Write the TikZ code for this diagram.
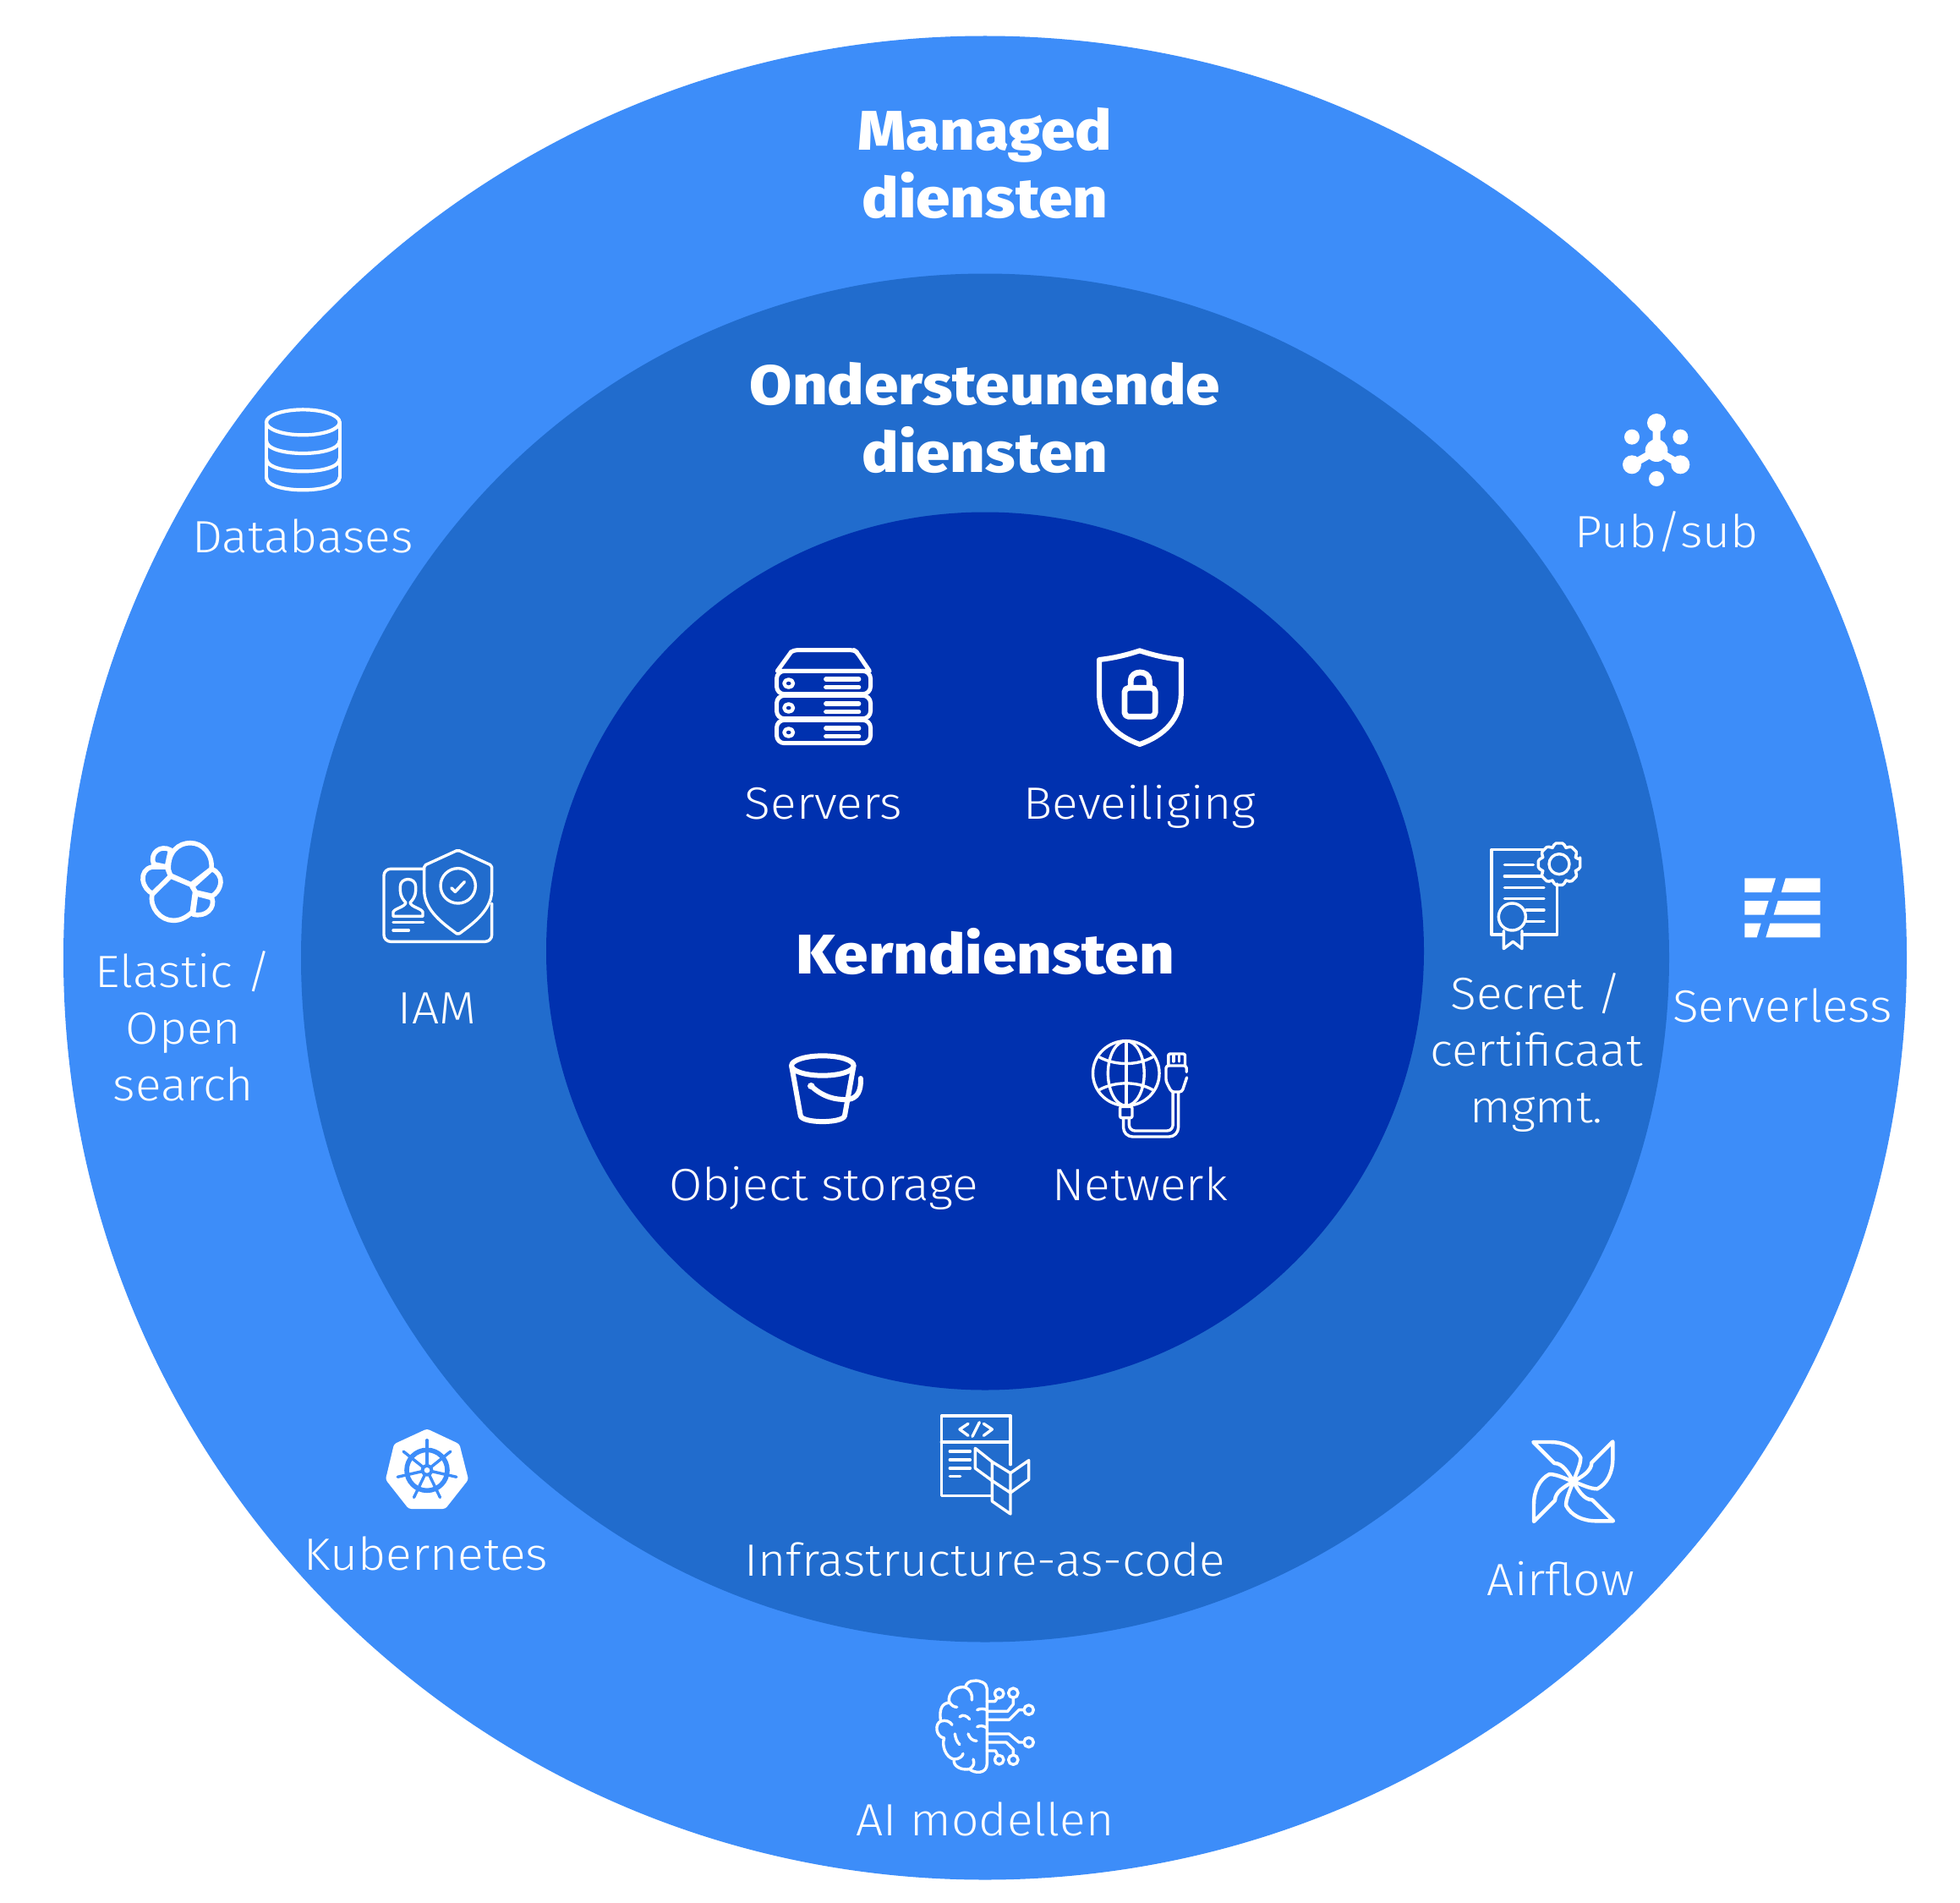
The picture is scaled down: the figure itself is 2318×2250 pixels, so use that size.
\documentclass[tikz,border=0pt]{standalone}
\usepackage{fontspec}
\setmainfont{Fira Sans Light}[BoldFont={Fira Sans ExtraBold},BoldFeatures={FakeStretch=1.1},FakeStretch=1.065]
\definecolor{ringout}{HTML}{3D8DF9}
\definecolor{ringmid}{HTML}{216CCD}
\definecolor{ringin}{HTML}{0031AF}
\tikzset{
  zoomed/.style 2 args={shift={(#1,#2)},x=0.33333pt,y=-0.33333pt},
  zoomedA/.style 2 args={shift={(#1,#2)},x=0.38265pt,y=-0.33333pt},
  zoomedB/.style 2 args={shift={(#1,#2)},x=0.35714pt,y=-0.33333pt},
  ic/.style={draw=white,line width=#1,line join=round,line cap=round,fill=none},
  ic/.default=3.4pt,
  lab/.style={text=white,font=\fontsize{53.5}{67}\selectfont,align=center,inner sep=0pt},
  head/.style={text=white,font=\fontsize{66}{80}\selectfont\bfseries,align=center,inner sep=0pt},
}
\begin{document}
\begin{tikzpicture}[x=1pt,y=-1pt]
\useasboundingbox (0,0) rectangle (2318,2250);
\fill[white] (0,0) rectangle (2318,2250);
\fill[ringout] (1165,1132.5) circle[radius=1090];
\fill[ringmid] (1165,1132.5) circle[radius=809];
\fill[ringin] (1165,1124.5) circle[radius=519];

% Servers
\begin{scope}[zoomedA={860}{730}]
  \draw[ic=5pt] (155,190) -- (198,122) [rounded corners=4pt] -- (205,116) -- (392,116) -- (400,122) [sharp corners] -- (440,190) -- cycle;
  \foreach \dy in {0,87,174}{
    \draw[ic=5pt,rounded corners=9pt] (153,190+\dy) rectangle (443,272+\dy);
    \draw[ic=4.3pt] (190,234+\dy) circle[radius=14];
    \draw[ic=5.2pt] (305,219+\dy) -- (407,219+\dy);
    \draw[ic=5.2pt] (305,248+\dy) -- (407,248+\dy);
  }
  % Shield
  \draw[ic=6pt] (1275,118) .. controls (1320,135) and (1360,145) .. (1403,150) -- (1403,270)
     .. controls (1403,360) and (1350,420) .. (1275,450) .. controls (1200,420) and (1150,360) .. (1150,270)
     -- (1150,150) .. controls (1190,145) and (1230,135) .. (1275,118) -- cycle;
  \draw[ic=6.8pt,rounded corners=5pt] (1228,250) rectangle (1323,352);
  \draw[ic=6.8pt] (1247,245) -- (1247,225) .. controls (1247,185) and (1305,185) .. (1305,225) -- (1305,245);
\end{scope}

% Bucket and network
\begin{scope}[zoomedB={880}{1210}]
  \draw[ic=6pt] (260,150) ellipse[x radius=103,y radius=35];
  \draw[ic=6pt] (158,155) -- (187,328) .. controls (195,355) and (325,355) .. (333,328) -- (362,155);
  \draw[ic=6pt] (222,222) .. controls (260,260) and (300,272) .. (345,270) .. controls (375,265) and (388,240) .. (386,195);
  \fill[white] (222,222) circle[radius=12];
  \draw[ic=3.4pt] (1265,177) ellipse[x radius=110,y radius=115];
  \draw[ic=3.4pt] (1265,177) ellipse[x radius=60,y radius=115];
  \draw[ic=3.4pt] (1265,62) -- (1265,292);
  \draw[ic=3.4pt] (1177,120) .. controls (1230,150) and (1300,150) .. (1352,120);
  \draw[ic=3.4pt] (1177,235) .. controls (1230,205) and (1300,205) .. (1352,235);
  \draw[ic=3.4pt,rounded corners=2pt] (1245,295) rectangle (1285,335);
  \draw[ic=3.4pt,rounded corners=11pt] (1256,335) -- (1256,402) -- (1438,402) -- (1438,245);
  \draw[ic=3.4pt,rounded corners=7pt] (1275,335) -- (1275,381) -- (1420,381) -- (1420,245);
  \draw[ic=3.4pt,rounded corners=2pt] (1405,150) -- (1405,108) -- (1460,108) -- (1460,150);
  \draw[ic=3.4pt] (1422,115) -- (1422,135) (1441,115) -- (1441,135);
  \draw[ic=3.4pt,rounded corners=3pt] (1465,172) -- (1465,150) -- (1397,150) -- (1397,205) -- (1415,243) -- (1450,243) -- (1466,192);
\end{scope}

% IAM
\begin{scope}[zoomed={430}{970}]
  \draw[ic=3.4pt,rounded corners=8pt] (215,172) -- (72,172) -- (72,430) -- (455,430) -- (455,295);
  \draw[ic=3.4pt,rounded corners=2pt] (335,105) -- (455,160) -- (455,250)
     .. controls (450,320) and (390,365) .. (335,405) .. controls (280,365) and (220,320) .. (215,250) -- (215,160) -- cycle;
  \draw[ic=3.4pt] (335,232) circle[radius=62];
  \draw[ic=3.6pt] (312,240) -- (325,253) -- (358,218);
  \draw[ic=3.4pt] (105,340) -- (105,325) .. controls (110,312) and (145,308) .. (150,292)
     .. controls (130,270) and (130,260) .. (130,235) .. controls (130,200) and (185,200) .. (185,235)
     .. controls (185,260) and (185,270) .. (165,292) .. controls (170,308) and (205,312) .. (210,325) -- (210,340) -- cycle;
  \draw[ic=3.4pt] (105,362) -- (212,362) (105,390) -- (160,390);
\end{scope}

% Secret and Serverless
\begin{scope}[zoomed={1740}{970}]
  \draw[ic=3.4pt] (255,103) -- (72,103) -- (72,405) -- (110,405);
  \draw[ic=3.4pt] (180,405) -- (305,405) -- (305,225);
  \draw[ic=3.4pt] (118,158) -- (220,158) (118,198) -- (250,198) (118,238) -- (258,238) (118,278) -- (258,278) (195,318) -- (258,318) (195,358) -- (258,358);
  \draw[ic=3.4pt] (145,342) circle[radius=48];
  \draw[ic=3.4pt] (115,392) -- (115,455) -- (148,430) -- (180,455) -- (180,392);
  \draw[ic=3.4pt] (312,155) circle[radius=36];
  \begin{scope}[shift={(312,155)}]
    \draw[ic=3.4pt,rounded corners=2pt] (-13:76) \foreach \k in {0,...,7}{ -- ({\k*45-13}:76) -- ({\k*45+13}:76) -- ({\k*45+19}:63) -- ({\k*45+26}:63) } -- cycle;
  \end{scope}
  \fill[white] (970,205) -- (1080,205) -- (1065,255) -- (970,255) -- cycle;
  \fill[white] (1115,205) -- (1238,205) -- (1238,255) -- (1100,255) -- cycle;
  \fill[white] (970,285) -- (1055,285) -- (1040,335) -- (970,335) -- cycle;
  \fill[white] (1088,285) -- (1238,285) -- (1238,335) -- (1073,335) -- cycle;
  \fill[white] (970,365) -- (1028,365) -- (1013,415) -- (970,415) -- cycle;
  \fill[white] (1060,365) -- (1238,365) -- (1238,415) -- (1045,415) -- cycle;
\end{scope}

% Elastic
\begin{scope}[zoomed={140}{970}]
  \draw[ic=5.6pt] (178,175) .. controls (175,110) and (215,80) .. (255,80) .. controls (300,80) and (335,120) .. (330,172) -- (258,228) -- (185,195) -- cycle;
  \draw[ic=5.6pt] (120,262) -- (185,198) -- (258,228) -- (272,252) -- (262,325) .. controls (240,345) and (220,355) .. (195,355) .. controls (150,355) and (110,310) .. (120,262) -- cycle;
  \draw[ic=5.6pt] (125,155) .. controls (110,115) and (150,85) .. (185,105) -- (172,165) -- cycle;
  \draw[ic=5.6pt] (120,165) .. controls (95,170) and (85,190) .. (87,210) .. controls (90,235) and (105,252) .. (122,260) -- (185,198) -- (172,165) -- cycle;
  \draw[ic=5.6pt] (332,172) .. controls (350,180) and (365,200) .. (363,220) .. controls (360,245) and (345,262) .. (332,268) -- (275,255) -- (262,235) -- cycle;
  \draw[ic=5.6pt] (275,260) -- (332,275) .. controls (345,310) and (310,345) .. (265,333) -- cycle;
\end{scope}

% Pub/sub
\begin{scope}[zoomed={1890}{470}]
  \fill[white] (207,90) circle[radius=33] (207,188) circle[radius=40] (120,238) circle[radius=33] (292,238) circle[radius=33]
     (120,140) circle[radius=27] (292,140) circle[radius=27] (207,288) circle[radius=27];
  \draw[white,line width=9pt] (207,90) -- (207,188) (120,238) -- (207,188) -- (292,238);
\end{scope}

% Kubernetes
\begin{scope}[zoomed={430}{1670}]
  \fill[white,rounded corners=3pt] (225,58) -- (340,112) -- (372,238) -- (290,342) -- (160,342) -- (78,238) -- (108,112) -- cycle;
  \draw[ringout,line width=5.6pt] (225,205) circle[radius=72];
  \foreach \a in {-90,-38.57,12.86,64.29,115.71,167.14,218.57}{
    \draw[ringout,line width=3.4pt,line cap=round] (225,205) -- ++(\a:107);
  }
  \fill[ringout] (225,205) circle[radius=22];
  \fill[white] (225,205) circle[radius=10];
\end{scope}

% Airflow
\begin{scope}[zoomed={1790}{1680}]
  \foreach \a in {0,90,180,270}{
    \draw[ic=4.4pt,rotate around={\a:(212,215)}] (70,75) -- (145,150) .. controls (175,150) and (195,185) .. (212,215)
      .. controls (225,180) and (238,155) .. (238,130) .. controls (220,95) and (180,75) .. (130,75) -- cycle;
  }
\end{scope}

% Infrastructure-as-code
\begin{scope}[zoomed={1090}{1660}]
  \draw[ic=3.4pt] (250,325) -- (70,325) -- (70,42) -- (315,42) -- (315,215);
  \draw[ic=3.4pt] (70,135) -- (315,135);
  \draw[ic=3.4pt] (165,70) -- (135,90) -- (165,112) (220,70) -- (250,90) -- (220,112) (205,65) -- (180,115);
  \draw[ic=3.4pt] (100,168) -- (172,168) (100,198) -- (172,198) (100,228) -- (172,228) (100,257) -- (137,257);
  \draw[ic=3.4pt] (190,157) -- (250,205) -- (250,272) -- (190,228) -- cycle;
  \draw[ic=3.4pt] (250,205) -- (315,245) -- (315,315) -- (250,272);
  \draw[ic=3.4pt] (315,245) -- (380,200) -- (380,268) -- (315,315);
  \draw[ic=3.4pt] (250,272) -- (250,345) -- (315,390) -- (315,315);
\end{scope}

% AI brain
\begin{scope}[zoomed={1090}{1970}]
  \draw[ic=3.4pt] (232,80) .. controls (232,60) and (205,48) .. (185,52) .. controls (170,52) and (158,60) .. (155,75)
     .. controls (130,70) and (100,85) .. (97,115) -- (97,130) .. controls (75,130) and (60,150) .. (68,195)
     .. controls (45,205) and (50,250) .. (80,255) .. controls (70,280) and (85,325) .. (115,330)
     .. controls (110,355) and (140,370) .. (170,365) .. controls (185,380) and (232,385) .. (232,345) -- cycle;
  \draw[ic=3.4pt] (155,75) .. controls (175,85) and (180,100) .. (178,120);
  \draw[ic=3.4pt] (97,125) .. controls (105,140) and (115,145) .. (125,145);
  \draw[ic=3.4pt] (68,195) .. controls (85,190) and (100,195) .. (108,208);
  \draw[ic=3.4pt] (115,330) .. controls (130,330) and (145,322) .. (147,310);
  \draw[ic=3.4pt] (170,365) .. controls (185,355) and (188,345) .. (183,330);
  \draw[ic=3.4pt] (135,180) .. controls (145,170) and (160,175) .. (170,188);
  \draw[ic=3.4pt] (197,155) .. controls (207,150) and (220,150) .. (232,155);
  \draw[ic=3.4pt] (197,215) .. controls (207,210) and (220,210) .. (232,220);
  \draw[ic=3.4pt] (118,240) .. controls (120,255) and (125,270) .. (135,278);
  \draw[ic=3.4pt] (165,240) .. controls (170,255) and (180,265) .. (195,265);
  \draw[ic=3.4pt] (232,125) -- (260,125) -- (270,110) (232,160) -- (305,160) -- (325,135) -- (325,112)
     (232,190) -- (310,190) -- (345,155) -- (362,155) (232,240) -- (310,240) -- (345,270) -- (362,270)
     (232,270) -- (300,270) -- (325,295) -- (325,316) (232,300) -- (262,300) -- (270,316);
  \draw[ic=3.4pt] (275,97) circle[radius=16] (325,95) circle[radius=17] (380,155) circle[radius=17]
     (380,270) circle[radius=17] (325,332) circle[radius=17] (275,332) circle[radius=16];
\end{scope}

% Databases
\begin{scope}[zoomed={290}{470}]
  \draw[ic=4.2pt] (205,88) ellipse[x radius=130,y radius=45];
  \draw[ic=4.2pt] (75,88) -- (75,283) (335,88) -- (335,283);
  \foreach \yy in {153,217,283}{
    \draw[ic=4.2pt] (75,\yy) .. controls (75,\yy+60) and (335,\yy+60) .. (335,\yy);
  }
\end{scope}

\node[head] (managed) at (1165,193) {Managed\\diensten};
\node[head] (onder) at (1165,494) {Ondersteunende\\diensten};
\node[head,anchor=base] (kern) at (1165,1151) {Kerndiensten};
\node[lab,anchor=base] (databases) at (358,653) {Databases};
\node[lab,anchor=base] (pubsub) at (1971,647) {Pub/sub};
\node[lab,anchor=base] (servers) at (974,968) {Servers};
\node[lab,anchor=base] (beveiliging) at (1348,968) {Beveiliging};
\node[lab,anchor=base] (object) at (974,1419) {Object storage};
\node[lab,anchor=base] (netwerk) at (1348,1419) {Netwerk};
\node[lab,anchor=base] (iam) at (517,1210) {IAM};
\node[lab] (elastic) at (217,1213) {Elastic /\\Open\\search};
\node[lab] (secret) at (1817,1244) {Secret /\\certificaat\\mgmt.};
\node[lab,anchor=base] (serverless) at (2108,1208) {Serverless};
\node[lab,anchor=base] (kubernetes) at (504,1856) {Kubernetes};
\node[lab,anchor=base] (iac) at (1165,1863) {Infrastructure-as-code};
\node[lab,anchor=base] (airflow) at (1846,1886) {Airflow};
\node[lab,anchor=base] (aimodel) at (1165,2170) {AI modellen};
\end{tikzpicture}
\end{document}
